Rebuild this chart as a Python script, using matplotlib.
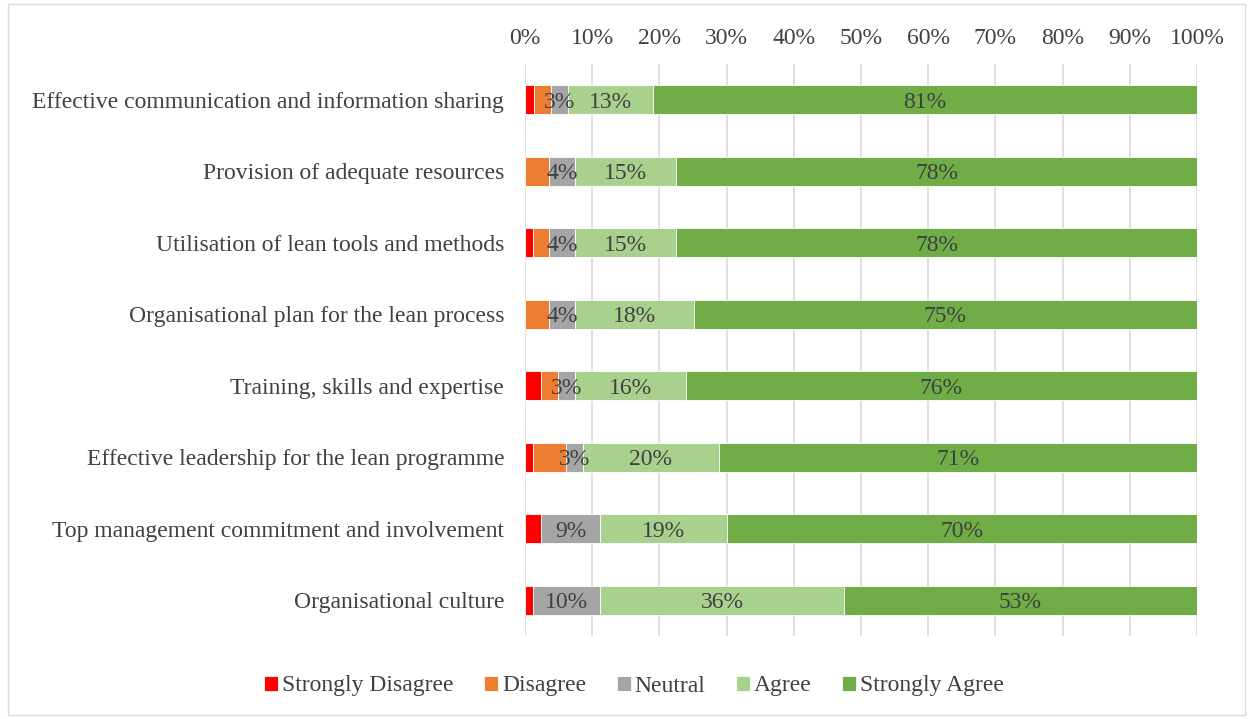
import matplotlib.pyplot as plt
from matplotlib.patches import Rectangle
import numpy as np

plt.rcParams['font.family'] = ['Liberation Serif', 'DejaVu Serif']

# categories from top to bottom
factors = ['Effective communication and information sharing',
           'Provision of adequate resources',
           'Utilisation of lean tools and methods',
           'Organisational plan for the lean process',
           'Training, skills and expertise',
           'Effective leadership for the lean programme',
           'Top management commitment and involvement',
           'Organisational culture']

levels = ['Strongly Disagree', 'Disagree', 'Neutral', 'Agree', 'Strongly Agree']
colors = ['#FF0000', '#ED7D31', '#A5A5A5', '#A9D18E', '#70AD47']

strongly_disagree = [1.3, 0.0, 1.2, 0.0, 2.4, 1.2, 2.4, 1.2]
disagree = [2.5, 3.6, 2.4, 3.6, 2.5, 4.9, 0.0, 0.0]
neutral = [2.6, 3.9, 3.9, 3.9, 2.6, 2.6, 8.8, 10.0]
agree = [12.7, 15.0, 15.0, 17.6, 16.4, 20.1, 18.8, 36.2]
strongly_agree = [80.9, 77.5, 77.5, 74.9, 76.1, 71.2, 70.0, 52.6]
series = [strongly_disagree, disagree, neutral, agree, strongly_agree]
labelled = [False, False, True, True, True]

txt = '#404040'
fs = 17

fig = plt.figure(figsize=(12.5, 7.19), dpi=100)
ax = fig.add_axes([0.42, 0.1154, 0.5376, 0.7956])

y = np.arange(len(factors))[::-1]
left = np.zeros(len(factors))
for name, vals, col, lab in zip(levels, series, colors, labelled):
    vals = np.array(vals)
    bars = ax.barh(y, vals, left=left, height=0.41, color=col, label=name,
                   edgecolor='white', linewidth=0.6, zorder=3)
    if lab:
        for b, v in zip(bars, vals):
            if v > 0:
                ax.text(b.get_x() + b.get_width() / 2, b.get_y() + b.get_height() / 2,
                        f'{v:.0f}%', ha='center', va='center_baseline', fontsize=fs,
                        color=txt, zorder=4)
    left += vals

ax.set_xlim(0, 100)
ax.set_ylim(-0.5, len(factors) - 0.5)
ax.set_yticks(y)
ax.set_yticklabels(factors, fontsize=fs, color=txt, va='center_baseline')
ax.set_xticks(range(0, 101, 10))
ax.set_xticklabels([f'{t}%' for t in range(0, 101, 10)], fontsize=fs, color=txt)
ax.xaxis.tick_top()
ax.tick_params(axis='y', length=0, pad=15)
ax.tick_params(axis='x', length=0, pad=11)
ax.grid(axis='x', color='#D9D9D9', linewidth=1.2, zorder=0)
for s in ax.spines.values():
    s.set_visible(False)

fig.legend(loc='center', bbox_to_anchor=(634 / 1250, 1 - 686 / 719), ncol=5,
           frameon=False, fontsize=fs, handlelength=0.6, handleheight=0.6,
           handletextpad=0.15, columnspacing=1.3, labelcolor=txt)

fig.patches.append(Rectangle((0.006, 0.006), 0.99, 0.988, transform=fig.transFigure,
                             fill=False, edgecolor='#D9D9D9', linewidth=1))

plt.savefig('out.png', dpi=100)
